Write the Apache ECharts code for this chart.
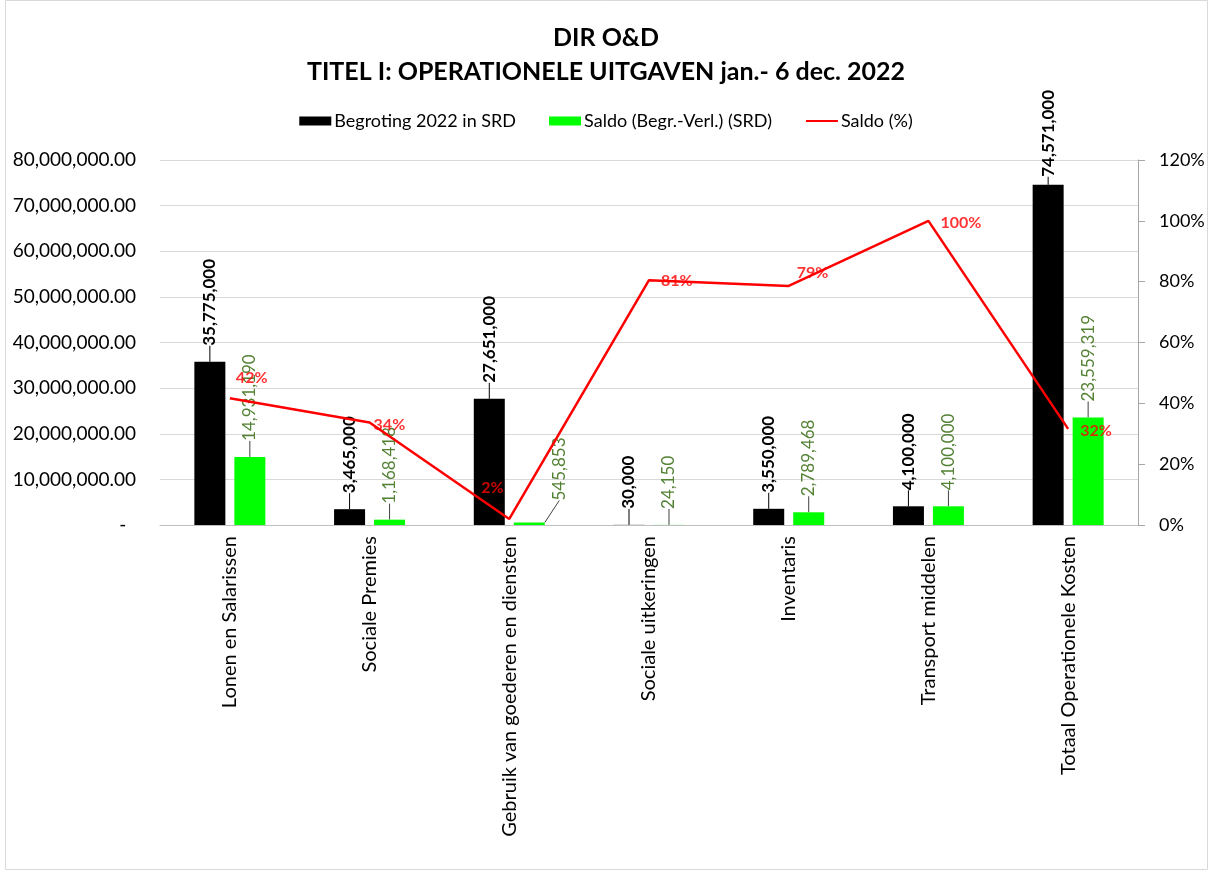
<!DOCTYPE html>
<html>
<head>
<meta charset="utf-8">
<script src="https://cdn.jsdelivr.net/npm/echarts@6/dist/echarts.min.js"></script>
<style>
  html, body { margin: 0; padding: 0; background: #fff; }
  #chart { width: 1212px; height: 872px; }
</style>
</head>
<body>
<div id="chart"></div>
<script>
// data
var categories = ['Lonen en Salarissen', 'Sociale Premies', 'Gebruik van goederen en diensten',
  'Sociale uitkeringen', 'Inventaris', 'Transport middelen', 'Totaal Operationele Kosten']
var begroting = [35775000, 3465000, 27651000, 30000, 3550000, 4100000, 74571000]
var saldo = [14931190, 1168418, 545853, 24150, 2789468, 4100000, 23559319]
var saldoPct = [41.7, 33.7, 2.0, 80.5, 78.6, 100, 31.6]

var FONT = 'Lato, "Open Sans", sans-serif'

function fmt(n) {
  return n.toLocaleString('en-US')
}

// label offsets of the % labels (position 'right'), per point
var pctOffsets = [[-6, -20], [-8, 2], [-40, -31], [0, 1], [-4, -13], [0, 2], [0, 2]]

var myChart = echarts.init(document.getElementById('chart'))

// rotated bar labels: dx moves up, dy moves right (label frame is turned 90deg)
var barLabel = {
  show: true,
  position: 'top',
  rotate: 90,
  align: 'left',
  verticalAlign: 'middle',
  distance: 2,
  fontSize: 17,
  formatter: function (p) { return fmt(p.value) }
}

var option = {
  animation: false,
  textStyle: { fontFamily: FONT },
  title: {
    text: 'DIR O&D\nTITEL I: OPERATIONELE UITGAVEN jan.- 6 dec. 2022',
    left: 'center',
    top: 16,
    textStyle: { fontSize: 25, fontWeight: 'bold', color: '#000', lineHeight: 34, fontFamily: FONT }
  },
  legend: {
    top: 107,
    left: 'center',
    itemWidth: 32,
    itemHeight: 9,
    itemGap: 33,
    textStyle: { fontSize: 18, color: '#000', padding: [0, 0, 0, -2] },
    data: [
      { name: 'Begroting 2022 in SRD', icon: 'rect' },
      { name: 'Saldo (Begr.-Verl.) (SRD)', icon: 'rect' },
      { name: 'Saldo (%)', itemStyle: { opacity: 0 } }
    ]
  },
  grid: { left: 160, right: 74, top: 160, bottom: 347 },
  xAxis: {
    type: 'category',
    data: categories,
    axisLine: { lineStyle: { color: '#bfbfbf' } },
    axisTick: { show: false },
    axisLabel: { rotate: 90, margin: 11, fontSize: 20, color: '#000', interval: 0 }
  },
  yAxis: [
    {
      type: 'value',
      min: 0,
      max: 80000000,
      interval: 10000000,
      axisLine: { show: false },
      axisTick: { show: false },
      splitLine: { lineStyle: { color: '#d9d9d9', width: 1 } },
      axisLabel: {
        margin: 24,
        fontSize: 19,
        color: '#000',
        formatter: function (v) {
          if (v === 0) return '-  '
          return v.toLocaleString('en-US', { minimumFractionDigits: 2, maximumFractionDigits: 2 })
        }
      }
    },
    {
      type: 'value',
      min: 0,
      max: 120,
      interval: 20,
      position: 'right',
      axisLine: { show: true, lineStyle: { color: '#a6a6a6' } },
      axisTick: { show: true, length: 7, lineStyle: { color: '#a6a6a6' } },
      splitLine: { show: false },
      axisLabel: { margin: 21, fontSize: 18, color: '#000', formatter: '{value}%' }
    }
  ],
  series: [
    {
      name: 'Begroting 2022 in SRD',
      type: 'bar',
      data: begroting,
      barWidth: 31,
      barGap: '29%',
      itemStyle: { color: '#000' },
      label: Object.assign({}, barLabel, { fontWeight: 'bold', color: '#000' }),
      labelLayout: function (p) {
        return p.dataIndex === 6 ? { dx: 6 } : { dx: 14 }
      },
      labelLine: { show: true, lineStyle: { color: '#000', width: 1 } }
    },
    {
      name: 'Saldo (Begr.-Verl.) (SRD)',
      type: 'bar',
      data: saldo,
      barWidth: 31,
      itemStyle: { color: '#00ff00' },
      label: Object.assign({}, barLabel, { color: '#548235' }),
      labelLayout: function (p) {
        if (p.dataIndex === 2) return { dx: 20, dy: 30 }
        return { dx: 14 }
      },
      labelLine: { show: true, lineStyle: { color: '#404040', width: 1 } }
    },
    {
      name: 'Saldo (%)',
      type: 'line',
      yAxisIndex: 1,
      data: saldoPct,
      symbol: 'none',
      itemStyle: { color: '#ff0000' },
      lineStyle: { color: '#ff0000', width: 2.5 },
      z: 5
    },
    {
      // carries the % labels of the line
      name: 'pctLabels',
      type: 'scatter',
      yAxisIndex: 1,
      symbolSize: 0,
      silent: true,
      data: saldoPct.map(function (v, i) {
        return { value: v, label: { offset: pctOffsets[i] } }
      }),
      label: {
        show: true,
        position: 'right',
        distance: 12,
        fontSize: 16,
        fontWeight: 'bold',
        color: '#ff0000',
        formatter: function (p) { return Math.round(p.value) + '%' }
      },
      z: 6
    }
  ],
  graphic: [
    {
      type: 'rect',
      shape: { x: 5.5, y: 0.5, width: 1202, height: 869 },
      style: { fill: null, stroke: '#d9d9d9', lineWidth: 1 },
      silent: true
    }
  ]
}

myChart.setOption(option)
</script>
</body>
</html>
